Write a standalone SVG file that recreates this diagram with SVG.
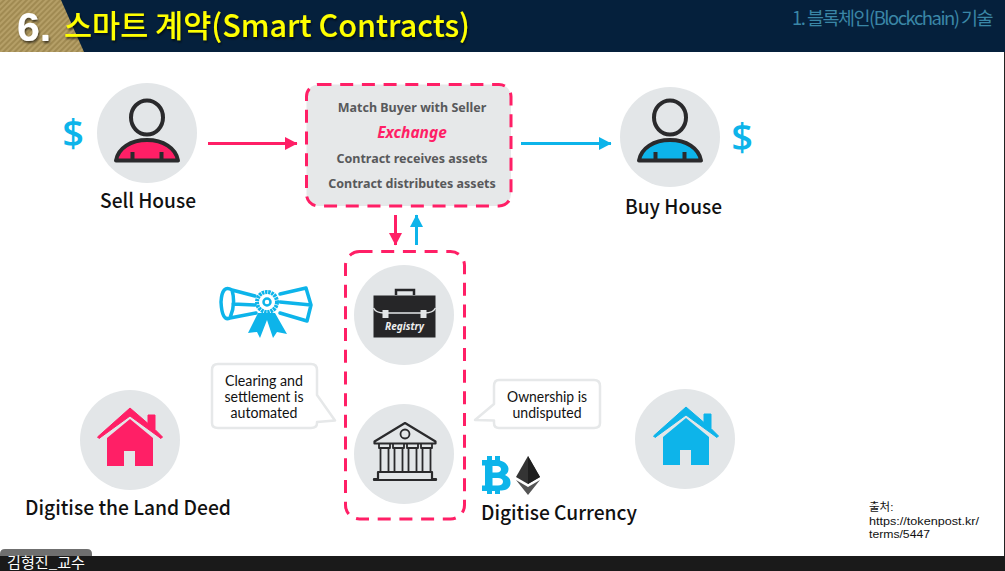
<svg xmlns="http://www.w3.org/2000/svg" width="1005" height="571" viewBox="0 0 1005 571">
<style>
text{font-family:"Noto Sans CJK KR","Noto Sans",sans-serif}
.lab{font-size:20px;fill:#111;text-anchor:middle;font-weight:500}
.cap{font-family:"Lato","Noto Sans",sans-serif;font-size:14.500px;fill:#111;text-anchor:middle}
.box{font-family:"Noto Sans",sans-serif;font-size:12.500px;font-weight:700;fill:#58595b;text-anchor:middle}
.disc{fill:#e3e6e8}
.dash{fill:none;stroke:#ff1f66;stroke-width:3;stroke-dasharray:13 8.700}
.bub{fill:#fff;stroke:#e6e8e9;stroke-width:2.500;stroke-linejoin:round}
.pk{stroke:#ff1f66;stroke-width:3;fill:none}
.bl{stroke:#0db4ea;stroke-width:3;fill:none}
.ink{fill:none;stroke:#2a2a2c;stroke-linejoin:round}
.dollar{font-family:"Open Sans",sans-serif;font-size:38px;font-weight:600;fill:#0db4ea;text-anchor:middle}
.src{font-family:"Liberation Sans","Noto Sans CJK KR",sans-serif;font-size:11.500px;fill:#111}
</style>
<defs>
<pattern id="gold" width="4" height="4" patternUnits="userSpaceOnUse" patternTransform="rotate(-45)"><rect width="4" height="4" fill="#a08a52"/><rect width="4" height="2" fill="#b59f67"/></pattern>
<marker id="ap" markerWidth="13" markerHeight="14" refX="12" refY="7" orient="auto" markerUnits="userSpaceOnUse"><path d="M0 0.500L12.500 7L0 13.500Z" fill="#ff1f66"/></marker>
<marker id="ab" markerWidth="13" markerHeight="14" refX="12" refY="7" orient="auto" markerUnits="userSpaceOnUse"><path d="M0 0.500L12.500 7L0 13.500Z" fill="#0db4ea"/></marker>
<filter id="sh" x="-5%" y="-20%" width="110%" height="140%"><feDropShadow dx="1" dy="2" stdDeviation="1" flood-color="#000" flood-opacity=".6"/></filter>
<g id="person">
<path d="M-31 27.500C-29 15 -16 7 0 7C16 7 29 15 31 27.500Z" fill="currentColor" stroke="#2a2a2c" stroke-width="4" stroke-linejoin="round"/>
<path d="M-14.500 27V19M14.500 27V19" stroke="#2a2a2c" stroke-width="4" fill="none"/>
<ellipse cx="0" cy="-15.500" rx="16" ry="17" fill="#e3e6e8" stroke="#2a2a2c" stroke-width="4"/>
</g>
<g id="house">
<path d="M-32.500 -3L0 -32L18 -16.500V-25H25V-10.500L32.500 -3L31 -1.500L0 -24L-31 -1.500Z" fill="currentColor" stroke="currentColor" stroke-width="1" stroke-linejoin="round"/>
<path d="M-23 -2L0 -21L23 -2V26H5V11H-6V26H-23Z" fill="currentColor"/>
</g>
</defs>

<g id="background">
<rect width="1005" height="571" fill="#fff"/>
<rect width="1005" height="52" fill="#05203c"/>
<path d="M0 0H61L84 52H0Z" fill="url(#gold)"/>
<rect x="1004" y="52" width="1" height="505" fill="#222"/>
<rect y="556" width="1005" height="15" fill="#1a1a1a"/>
<path d="M0 571V554Q0 549 5 549H87Q92 549 92 554V571Z" fill="#6f6f6f"/>
<rect y="556" width="92" height="15" fill="#1a1a1a"/>
</g>

<g id="header">
<text x="17" y="41" style="font-family:'Liberation Sans',sans-serif" font-size="41" font-weight="700" fill="#fff" filter="url(#sh)">6.</text>
<text x="64" y="37" font-size="31" font-weight="500" fill="#ff0" filter="url(#sh)" textLength="406" lengthAdjust="spacingAndGlyphs">스마트 계약(Smart Contracts)</text>
<text x="792" y="25" font-size="18.500" fill="#3a86a6" letter-spacing="-1.530">1. 블록체인(Blockchain) 기술</text>
<text x="7" y="568" font-size="14.500" fill="#fff" textLength="78" lengthAdjust="spacingAndGlyphs">김형진_교수</text>
</g>

<g id="connectors">
<path class="pk" d="M208 143.500H297" marker-end="url(#ap)"/>
<path class="bl" d="M521 143.500H611" marker-end="url(#ab)"/>
<path class="pk" d="M395.500 215V245" marker-end="url(#ap)"/>
<path class="bl" d="M416.500 245V215" marker-end="url(#ab)"/>
</g>

<g id="sell-house">
<text class="dollar" x="73" y="147">$</text>
<circle class="disc" cx="147" cy="133" r="50"/>
<use href="#person" x="147" y="133" color="#ff1f66"/>
<text class="lab" x="148" y="208" textLength="96" lengthAdjust="spacingAndGlyphs">Sell House</text>
</g>

<g id="exchange">
<rect x="306.500" y="84.500" width="204.500" height="121.500" rx="12" fill="#e6e8e9"/>
<rect class="dash" x="306.500" y="84.500" width="204.500" height="121.500" rx="12"/>
<text class="box" x="412" y="112">Match Buyer with Seller</text>
<text x="412" y="138" style="font-family:'Noto Sans',sans-serif" font-size="15.500" font-weight="700" font-style="italic" fill="#ff1f66" text-anchor="middle">Exchange</text>
<text class="box" x="412" y="163">Contract receives assets</text>
<text class="box" x="412" y="188">Contract distributes assets</text>
</g>

<g id="buy-house">
<circle class="disc" cx="670" cy="137" r="50"/>
<use href="#person" x="670" y="133" color="#0db4ea"/>
<text class="dollar" x="742" y="151">$</text>
<text class="lab" x="673.500" y="214" textLength="97" lengthAdjust="spacingAndGlyphs">Buy House</text>
</g>

<g id="ledger-frame">
<rect class="dash" x="345.500" y="251.500" width="119" height="267.500" rx="14"/>
</g>

<g id="certificate" fill="none" stroke="#0db4ea" stroke-width="3.500" stroke-linejoin="round" stroke-linecap="round">
<path d="M232 290L255 296M233 304L255 305M230 318L256 313M232 290Q222 284 221 302Q222 322 230 318Q236 304 232 290Z"/>
<path d="M280 294L306 288L311 305L307 321L280 313M280 302L311 305"/>
<circle cx="267" cy="302" r="10" stroke-width="4" stroke-dasharray="2.500 .7" stroke-linecap="butt"/>
<circle cx="267" cy="302" r="3.500" stroke-width="2.500"/>
<path d="M258 313L248 333L257 332L260 338L267 320L273 338L277 332L287 334L275 313Z" fill="#0db4ea" stroke="none"/>
</g>

<g id="registry">
<circle class="disc" cx="404" cy="315" r="50"/>
<rect x="373.500" y="295.500" width="62" height="42" fill="#262628"/>
<path d="M396 295V290H414V295" fill="none" stroke="#262628" stroke-width="2.500"/>
<path d="M373.500 308Q376 313 384 313H425Q433 313 435.500 308" fill="none" stroke="#e3e6e8" stroke-width="1.500"/>
<rect x="382.500" y="310" width="6" height="8" fill="#e3e6e8"/>
<rect x="420.500" y="310" width="6" height="8" fill="#e3e6e8"/>
<text x="404.500" y="330" style="font-family:'Noto Sans',sans-serif" font-size="10" font-weight="700" font-style="italic" fill="#eee" text-anchor="middle">Registry</text>
</g>

<g id="bank">
<circle class="disc" cx="404" cy="454" r="50"/>
<path class="ink" stroke-width="2.200" d="M374.500 441.500L405 423L435.500 441.500V443.500H374.500Z"/>
<circle cx="405" cy="434" r="4.500" fill="none" stroke="#2a2a2c" stroke-width="1.800"/>
<path class="ink" stroke-width="1.800" d="M379 444V448H390V444M380.500 448V472H388.500V448M393 444V448H404V444M394.500 448V472H402.500V448M407 444V448H418V444M408.500 448V472H416.500V448M421 444V448H432V444M422.500 448V472H430.500V448"/>
<path class="ink" stroke-width="2.200" d="M378 472H432V479H436V480H374V479H378Z"/>
</g>

<g id="note-clearing">
<path class="bub" d="M218 364H311Q317 364 317 370V395L335 420.500L317 422V423Q317 428 311 428H218Q212 428 212 423V370Q212 364 218 364Z"/>
<text class="cap" x="264" y="386" textLength="78" lengthAdjust="spacingAndGlyphs">Clearing and</text>
<text class="cap" x="264" y="402" textLength="79" lengthAdjust="spacingAndGlyphs">settlement is</text>
<text class="cap" x="264" y="418" textLength="67" lengthAdjust="spacingAndGlyphs">automated</text>
</g>

<g id="note-ownership">
<path class="bub" d="M499 380H594Q600 380 600 386V423Q600 428 594 428H499Q494 428 494 423V420.500L475 420L494 404V386Q494 380 499 380Z"/>
<text class="cap" x="547" y="402" textLength="80" lengthAdjust="spacingAndGlyphs">Ownership is</text>
<text class="cap" x="547" y="418" textLength="69" lengthAdjust="spacingAndGlyphs">undisputed</text>
</g>

<g id="land-deed">
<circle class="disc" cx="130" cy="440" r="50"/>
<use href="#house" x="130" y="440" color="#ff1f66"/>
<text class="lab" x="128" y="515" textLength="206" lengthAdjust="spacingAndGlyphs">Digitise the Land Deed</text>
</g>

<g id="currency">
<path id="bitcoin" fill="#0db4ea" fill-rule="evenodd" d="M482 460H487V456H492V460H495V456H500V460.500C506 462 508.500 466 508.500 469C508.500 472 507 474 505 475C508.500 476.500 510.500 479 510.500 483C510.500 488 506 490.500 500 490.500V494H495V491H492V494H487V491H482V485.500H485V465.500H482ZM492.500 466V472.500H497C499.500 472.500 501 471 501 469.200C501 467.300 499.500 466 497 466ZM492.500 478V485.500H498C501 485.500 503 484 503 481.700C503 479.300 501 478 498 478Z"/>
<path d="M528 456L516 477L528 484L540 477Z" fill="#343434"/>
<path d="M528 456V484L540 477Z" fill="#1f1f1f"/>
<path d="M516 480L528 495L540 480L528 487Z" fill="#555"/>
<text class="lab" x="559" y="520" textLength="156" lengthAdjust="spacingAndGlyphs">Digitise Currency</text>
</g>

<g id="blue-house">
<circle class="disc" cx="685" cy="439" r="50"/>
<use href="#house" x="686" y="439" color="#0db4ea"/>
</g>

<g id="source">
<text class="src" x="869" y="511">출처:</text>
<text class="src" x="869" y="525" textLength="110" lengthAdjust="spacingAndGlyphs">https://tokenpost.kr/</text>
<text class="src" x="869" y="538" textLength="61" lengthAdjust="spacingAndGlyphs">terms/5447</text>
</g>
</svg>
